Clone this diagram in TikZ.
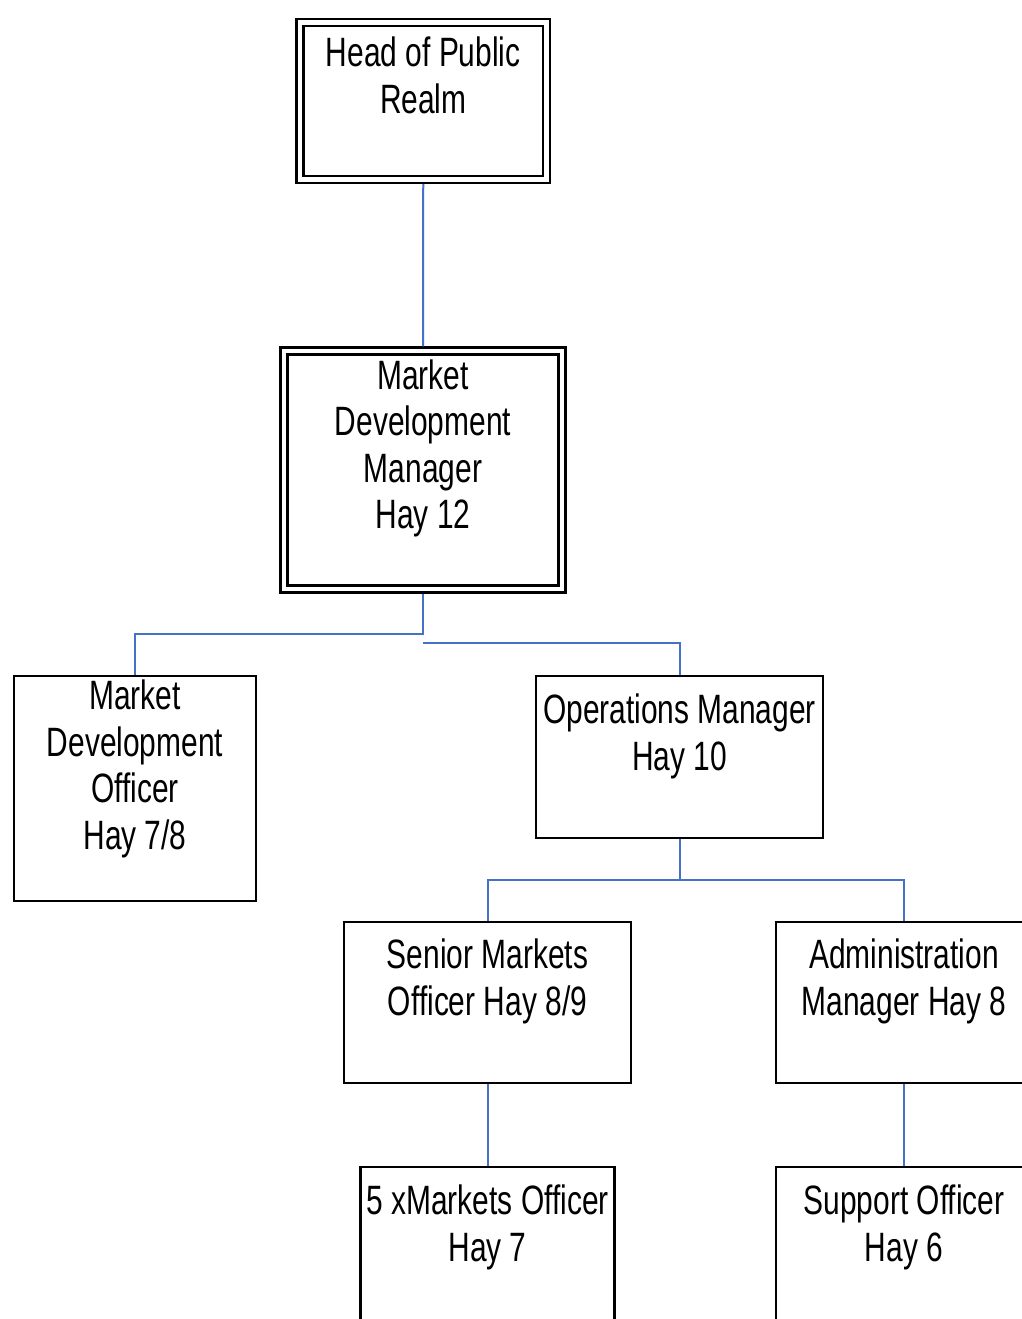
\documentclass[tikz,border=0pt]{standalone}
\usepackage{fontspec}
\setmainfont[FakeStretch=0.73]{Liberation Sans}
\usetikzlibrary{positioning}
\definecolor{linkblue}{HTML}{4472C4}
\begin{document}
\begin{tikzpicture}[
x = 1pt, y = -1pt,
box/.style = {draw=black, line width=2.5pt, fill=white},
headbox/.style = {draw=black, line width=2.2pt, double, double distance=4.8pt, outer sep=4.6pt},
txt/.style = {align=center, inner sep=0pt, font=\fontsize{41}{46.5}\selectfont},
link/.style = {draw=linkblue, line width=2pt},
]
\useasboundingbox (0,0) rectangle (1022,1319);
\clip (0,0) rectangle (1022,1319);
\fill[white] (0,0) rectangle (1022,1319);

\node [headbox, minimum width=246.5, minimum height=157] (head) at (423.25,101) {};
\node [txt, below=19pt of head.north] {Head of Public\\Realm};
\node [headbox, minimum width=278, minimum height=238] (mdm) at (423,470) {};
\node [txt, below=13pt of mdm.north] {Market\\Development\\Manager\\Hay 12};
\node [box, minimum width=242, minimum height=225] (mdo) at (135,788.5) {};
\node [txt, below=5pt of mdo.north] {Market\\Development\\Officer\\Hay 7/8};
\node [box, minimum width=287, minimum height=162] (ops) at (679.5,757) {};
\node [txt, below=19pt of ops.north] {Operations Manager\\Hay 10};
\node [box, minimum width=287, minimum height=161] (smo) at (487.5,1002.5) {};
\node [txt, below=18pt of smo.north] {Senior Markets\\Officer Hay 8/9};
\node [box, minimum width=256, minimum height=161] (admin) at (904,1002.5) {};
\node [txt, below=18pt of admin.north] {Administration\\Manager Hay 8};
\node [box, minimum width=254, minimum height=173] (five) at (487.5,1253.5) {};
\node [txt, below=19pt of five.north] {5 xMarkets Officer\\Hay 7};
\node [box, minimum width=256, minimum height=173] (support) at (904,1253.5) {};
\node [txt, below=19pt of support.north] {Support Officer\\Hay 6};

\coordinate (split1) at (423,634);
\coordinate (split2) at (423,643);
\coordinate (bus) at (679.5,880);
\path[link] (head.south) -- (mdm.north) ;
\path[link] (mdm.south) -- (split1) -| (mdo.north) ;
\path[link] (split2) -| (ops.north) ;
\path[link] (ops.south) -- (bus) ;
\path[link] (smo.north) |- (bus) -| (admin.north) ;
\path[link] (smo.south) -- (five.north) ;
\path[link] (admin.south) -- (support.north) ;

\end{tikzpicture}
\end{document}
